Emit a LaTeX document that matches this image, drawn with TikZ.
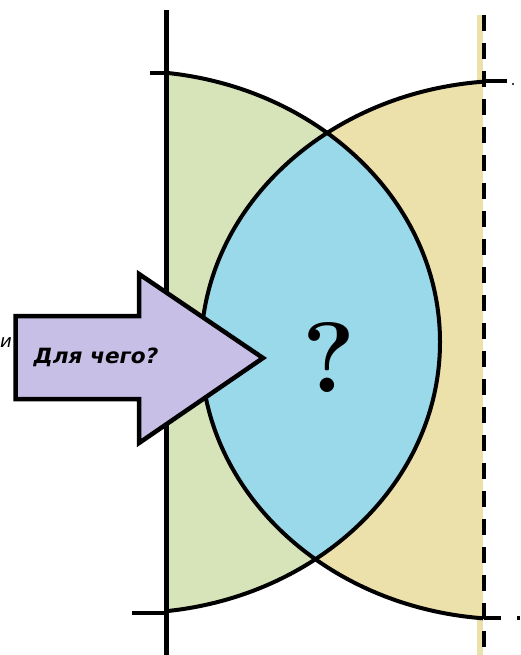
\documentclass[tikz,border=0pt]{standalone}
\usepackage{fontspec}
\newfontfamily\handfont{DejaVu Sans}
\definecolor{cgreen}{HTML}{D7E4BA}
\definecolor{cyellow}{HTML}{EDE1AB}
\definecolor{cblue}{HTML}{9AD9EA}
\definecolor{cpurple}{HTML}{C8BFE6}
\tikzset{
  edge/.style={line width=4pt, black},
  dashedge/.style={line width=4pt, black, dash pattern=on 16pt off 12pt},
  arrowshape/.style={fill=cpurple, draw=black, line width=4.5pt, line join=miter},
}
\begin{document}
\begin{tikzpicture}[x=1pt,y=-1pt]
\useasboundingbox (0,0) rectangle (520,655);
% green region
\begin{scope}
  \clip (166,0) rectangle (520,655);
  \fill[cgreen] (130,342) ellipse [x radius=310pt, y radius=271pt];
\end{scope}
% yellow region
\begin{scope}
  \clip (0,0) rectangle (483,655);
  \fill[cyellow] (510,350) ellipse [x radius=309pt, y radius=269.3pt];
\end{scope}
\fill[cyellow] (477,15) rectangle (483,655);
% blue lens
\begin{scope}
  \clip (130,342) ellipse [x radius=310pt, y radius=271pt];
  \fill[cblue] (510,350) ellipse [x radius=309pt, y radius=269.3pt];
\end{scope}
% outlines
\begin{scope}
  \clip (166,0) rectangle (520,655);
  \draw[edge] (130,342) ellipse [x radius=310pt, y radius=271pt];
\end{scope}
\begin{scope}
  \clip (0,0) rectangle (483,655);
  \draw[edge] (510,350) ellipse [x radius=309pt, y radius=269.3pt];
\end{scope}
% vertical lines and ticks
\coordinate (lt) at (166.5,10);
\coordinate (lb) at (166.5,655);
\coordinate (rt) at (484,15);
\coordinate (rb) at (484,655);
\draw[edge, line width=5pt] (lt) -- (lb);
\draw[dashedge] (rt) -- (rb);
\coordinate (t1a) at (150,73);
\coordinate (t1b) at (166.5,73);
\coordinate (t2a) at (132,613);
\coordinate (t2b) at (166.5,613);
\coordinate (t3a) at (484,81);
\coordinate (t3b) at (507,81);
\coordinate (t4a) at (484,618);
\coordinate (t4b) at (520,618);
\draw[edge] (t1a) -- (t1b);
\draw[edge] (t2a) -- (t2b);
\draw[edge] (t3a) -- (t3b);
\draw[dashedge, dash pattern=on 17pt off 16pt] (t4a) -- (t4b);
\fill (513,84) circle (1.2pt);
% arrow
\draw[arrowshape] (15.5,316) -- (139,316) -- (139,274) -- (263,358) -- (139,443) -- (139,399) -- (15.5,399) -- cycle;
\node (q) at (96,357) {\scalebox{1.03}[1]{\fontsize{21}{21}\selectfont\handfont\bfseries\itshape Для чего?}};
\node (qm) at (329,357) {\fontsize{100}{100}\selectfont\bfseries ?};
\node[anchor=west, inner sep=0pt] (cut) at (0,343) {\fontsize{18}{18}\selectfont\handfont\itshape и};
\end{tikzpicture}
\end{document}
